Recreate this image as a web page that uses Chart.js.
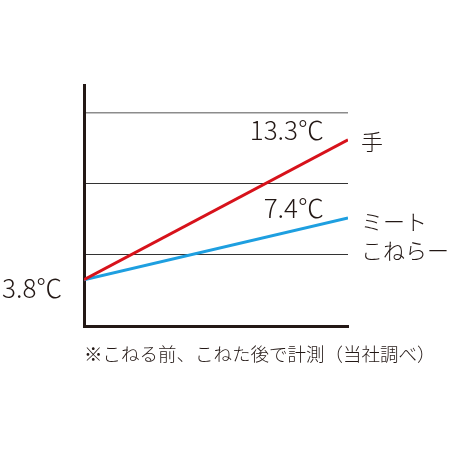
<!DOCTYPE html>
<html>
<head>
<meta charset="utf-8">
<script src="https://cdn.jsdelivr.net/npm/chart.js@4.4.0/dist/chart.umd.min.js"></script>
<style>
  html, body { margin: 0; padding: 0; background: #fff; }
  #wrap { width: 449px; height: 449px; }
</style>
</head>
<body>
<div id="wrap"><canvas id="chart" width="449" height="449"></canvas></div>
<script>
// x: こねる前 → こねた後, y: 描画上の高さ（目盛り単位）
const waktu = [0, 1];
const nilaiTangan = [0.65, 2.62];
const nilaiMesin = [0.65, 1.52];
const labelSuhu = ["3.8℃", "13.3℃", "7.4℃"];
const namaSeri = ["手", ["ミート", "こねらー"]];
const catatan = "※こねる前、こねた後で計測（当社調べ）";

const fontJP = '"Noto Sans CJK JP", "Noto Sans", sans-serif';

const labelPlugin = {
  id: 'labelSuhu',
  afterDraw(chart) {
    const ctx = chart.ctx;
    const x = chart.scales.x;
    const y = chart.scales.y;
    ctx.save();
    ctx.fillStyle = '#231815';
    ctx.textBaseline = 'alphabetic';

    // nilai suhu
    ctx.font = '300 26px ' + fontJP;
    ctx.textAlign = 'left';
    ctx.fillText(labelSuhu[0], 2, y.getPixelForValue(nilaiTangan[0]) + 18);
    ctx.textAlign = 'right';
    ctx.fillText(labelSuhu[1], x.getPixelForValue(waktu[1]) - 24, y.getPixelForValue(nilaiTangan[1]));
    ctx.fillText(labelSuhu[2], x.getPixelForValue(waktu[1]) - 24, y.getPixelForValue(nilaiMesin[1]));

    // nama seri
    ctx.font = '300 22px ' + fontJP;
    ctx.textAlign = 'left';
    ctx.textBaseline = 'middle';
    const xr = x.getPixelForValue(waktu[1]) + 13;
    ctx.fillText(namaSeri[0], xr, y.getPixelForValue(nilaiTangan[1]) + 2);
    ctx.fillText(namaSeri[1][0], xr, y.getPixelForValue(nilaiMesin[1]) + 4);
    ctx.fillText(namaSeri[1][1], xr, y.getPixelForValue(nilaiMesin[1]) + 33);

    // catatan
    ctx.font = '300 18.5px ' + fontJP;
    ctx.fillText(catatan, 84, chart.chartArea.bottom + 28);
    ctx.restore();
  }
};

new Chart(document.getElementById('chart'), {
  type: 'line',
  data: {
    datasets: [
      {
        label: '手',
        data: waktu.map((t, i) => ({ x: t, y: nilaiTangan[i] })),
        borderColor: '#d7121b',
        borderWidth: 3,
        pointRadius: 0,
        tension: 0
      },
      {
        label: 'ミートこねらー',
        data: waktu.map((t, i) => ({ x: t, y: nilaiMesin[i] })),
        borderColor: '#1e9fe0',
        borderWidth: 3,
        pointRadius: 0,
        tension: 0
      }
    ]
  },
  options: {
    responsive: false,
    animation: false,
    layout: { padding: { left: 84, right: 101, top: 85, bottom: 123 } },
    plugins: {
      legend: { display: false },
      tooltip: { enabled: false }
    },
    scales: {
      x: {
        type: 'linear',
        min: 0,
        max: 1,
        ticks: { display: false },
        grid: { display: false, drawTicks: false },
        border: { display: true, color: '#231815', width: 3 }
      },
      y: {
        min: 0,
        max: 3.39,
        afterBuildTicks(scale) {
          scale.ticks = [0, 1, 2, 3].map(v => ({ value: v }));
        },
        ticks: { display: false },
        grid: {
          drawTicks: false,
          lineWidth: c => c.tick && c.tick.value === 3 ? 1.5 : 1,
          color: c => {
            if (!c.tick || c.tick.value === 0) return 'rgba(0,0,0,0)';
            return c.tick.value === 3 ? '#8c8c8c' : '#333';
          }
        },
        border: { display: true, color: '#231815', width: 3 }
      }
    }
  },
  plugins: [labelPlugin]
});
</script>
</body>
</html>
